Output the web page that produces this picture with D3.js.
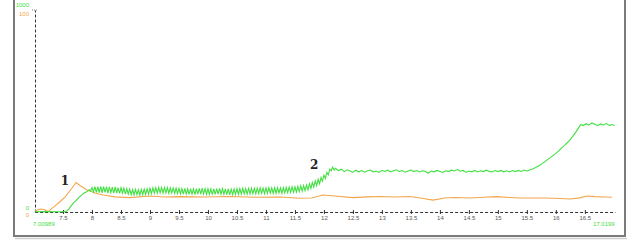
<!DOCTYPE html>
<html><head><meta charset="utf-8">
<script src="https://cdn.jsdelivr.net/npm/d3@7"></script>
<style>body{margin:0;background:#fff}svg{display:block}</style>
</head><body><svg id="c" width="640" height="245"></svg>
<script>
const xStart = 7.00989, xEnd = 17.02;
const xTickValues = [7.5,8,8.5,9,9.5,10,10.5,11,11.5,12,12.5,13,13.5,14,14.5,15,15.5,16,16.5];
const greenMax = 1000, orangeMax = 100;
const startLabel = "7.00989", endLabel = "17.0199";
const peakLabels = [{t:7.46, v:13.3, text:"1"}, {t:11.76, v:21.5, text:"2"}]; // orange-scale position

const orangeSeries = [
 [7.017,0.5],[7.103,1.5],[7.172,1.2],[7.241,0.2],[7.362,3],[7.45,5.2],[7.534,7.4],[7.655,11.9],[7.724,14.6],
 [7.793,13.1],[7.913,10.9],[8.051,9.4],[8.189,8.4],[8.396,7.5],[8.655,7.1],[9.0,7.9],[9.258,7.4],[9.517,7.6],
 [9.948,7.4],[10.379,7.7],[10.81,7.3],[11.241,7.4],[11.586,6.8],[11.793,6.9],[11.982,8.4],[12.189,7.9],
 [12.5,7.1],[12.76,7.5],[12.965,7.7],[13.224,7.4],[13.483,7.7],[13.69,6.8],[13.879,5.9],[14.086,6.9],
 [14.259,7.2],[14.518,6.9],[14.759,7.3],[14.983,7.6],[15.207,7.2],[15.38,6.9],[15.811,6.9],[16.07,6.7],
 [16.242,6.4],[16.414,7.0],[16.535,7.9],[16.673,7.6],[16.845,7.4],[16.966,7.3]
];

const greenSeries = [
 [7.01,1],[7.2,2],[7.4,1],[7.52,2],[7.56,4],[7.6,14],[7.64,30],[7.68,45],[7.72,55],[7.76,68],[7.79,76],[7.83,86],[7.87,95],[7.91,100],[7.95,110],[7.975,104],
 [8.000,121],[8.025,99],[8.050,126],[8.075,97],[8.100,125],[8.125,96],[8.150,127],[8.175,95],[8.200,125],[8.225,97],[8.250,126],[8.275,94],[8.300,124],[8.325,96],[8.350,123],[8.375,93],[8.400,124],[8.425,94],[8.450,121],[8.475,92],[8.500,120],[8.525,93],[8.550,118],[8.575,89],[8.600,116],[8.625,88],[8.650,113],[8.675,86],[8.700,111],[8.725,85],[8.750,112],[8.775,86],[8.800,110],[8.825,84],[8.850,112],[8.875,86],[8.900,113],[8.925,87],[8.950,115],[8.975,89],[9.000,117],[9.025,91],[9.050,119],[9.075,93],[9.100,121],[9.125,94],[9.150,122],[9.175,95],[9.200,121],[9.225,94],[9.250,122],[9.275,95],[9.300,121],[9.325,93],[9.350,120],[9.375,94],[9.400,119],[9.425,92],[9.450,118],[9.475,91],[9.500,117],
 [9.525,90],[9.550,116],[9.575,88],[9.600,117],[9.625,89],[9.650,115],[9.675,87],[9.700,116],[9.725,88],[9.750,114],[9.775,86],[9.800,116],[9.825,88],[9.850,117],[9.875,89],[9.900,118],[9.925,90],[9.950,116],[9.975,88],[10.000,115],[10.025,87],[10.050,114],[10.075,86],[10.100,115],[10.125,87],[10.150,116],[10.175,88],[10.200,117],[10.225,89],[10.250,116],[10.275,88],[10.300,115],[10.325,86],[10.350,114],[10.375,85],[10.400,113],[10.425,86],[10.450,114],[10.475,87],[10.500,115],[10.525,88],[10.550,116],[10.575,89],[10.600,117],[10.625,90],[10.650,116],[10.675,89],[10.700,117],[10.725,90],[10.750,118],[10.775,91],[10.800,117],[10.825,90],[10.850,118],[10.875,91],[10.900,119],[10.925,92],[10.950,118],[10.975,91],[11.000,119],[11.025,92],[11.050,120],[11.075,93],[11.100,119],[11.125,92],[11.150,120],[11.175,93],[11.200,121],[11.225,94],[11.250,120],[11.275,93],[11.300,121],
 [11.325,95],[11.350,122],[11.375,96],[11.400,123],[11.425,97],[11.450,124],[11.475,98],[11.500,125],[11.525,99],[11.550,127],[11.575,101],[11.600,129],[11.625,103],[11.650,131],[11.675,106],[11.700,134],[11.725,110],[11.750,140],[11.775,117],[11.800,146],[11.825,124],[11.850,154],[11.875,131],[11.900,162],[11.925,140],[11.950,170],[11.975,152],[12.000,182],[12.025,166],[12.050,196],[12.075,184],[12.100,212],[12.125,204],[12.150,222],[12.175,208],
 [12.20,216],[12.25,205],[12.30,212],[12.35,200],[12.40,209],[12.45,203],[12.50,196],[12.55,207],[12.60,199],[12.65,205],[12.70,197],[12.75,204],[12.80,208],[12.85,199],[12.90,203],[12.95,196],[13.00,205],[13.05,201],[13.10,207],[13.15,198],[13.20,204],[13.25,209],[13.30,200],[13.35,205],[13.40,197],[13.45,203],[13.50,208],[13.55,200],[13.60,205],[13.65,198],[13.70,204],[13.75,201],[13.80,193],[13.85,203],[13.90,199],[13.95,206],[14.00,201],[14.05,196],[14.10,204],[14.15,200],[14.20,207],[14.25,203],[14.30,210],[14.35,202],[14.40,206],[14.45,196],[14.50,203],[14.55,199],[14.60,206],[14.65,198],[14.70,204],[14.75,200],[14.80,207],[14.85,201],[14.90,198],[14.95,205],[15.00,200],[15.05,206],[15.10,199],[15.15,204],[15.20,198],[15.25,205],[15.30,200],[15.35,206],[15.40,201],[15.45,208],[15.50,203],
 [15.55,208],[15.60,213],[15.65,220],[15.70,228],[15.75,237],[15.80,247],[15.85,258],[15.90,268],[15.95,279],[16.00,290],[16.05,303],[16.10,317],[16.15,330],[16.20,344],[16.25,359],[16.30,378],[16.35,398],[16.40,420],[16.43,433],
 [16.47,428],[16.52,437],[16.57,430],[16.62,441],[16.67,434],[16.72,427],[16.77,436],[16.82,431],[16.87,438],[16.92,429],[16.97,433],[17.01,428]
];

const GREEN = "#3fe03f", ORANGE = "#f2a64c", TEXT = "#555";
const FONT = "Arial, 'Liberation Sans', sans-serif";
const svg = d3.select("#c");
const x = d3.scaleLinear().domain([xStart, xEnd]).range([34.6, 615]);
const yG = d3.scaleLinear().domain([0, greenMax]).range([212, 10]);
const yO = d3.scaleLinear().domain([0, orangeMax]).range([212, 10]);

// frame
const frame = svg.append("g").attr("stroke", "#7a7a7a").attr("stroke-width", 2);
frame.append("line").attr("x1",14).attr("x2",14).attr("y1",0).attr("y2",237);
frame.append("line").attr("x1",625).attr("x2",625).attr("y1",0).attr("y2",237);
frame.append("line").attr("x1",13).attr("x2",626).attr("y1",236).attr("y2",236);
svg.append("line").attr("x1",15).attr("x2",627).attr("y1",238.5).attr("y2",238.5).attr("stroke","#cfcfcf").attr("stroke-width",1.5);

// x axis
const xAxis = d3.axisBottom(x).tickValues(xTickValues).tickSize(4).tickSizeOuter(0).tickFormat(d => String(d));
const gx = svg.append("g").attr("transform","translate(0,212)").call(xAxis);
gx.select(".domain").attr("stroke","#333").attr("stroke-dasharray","3,2").attr("stroke-width",1);
gx.selectAll(".tick line").attr("y1",-2).attr("y2",2).attr("stroke","#333");
gx.selectAll(".tick text").attr("y",4).attr("fill",TEXT).attr("font-size","6px").attr("font-family",FONT);

// y axis
const yAxis = d3.axisLeft(yG).tickValues([]).tickSizeOuter(0);
const gy = svg.append("g").attr("transform","translate(35,0)").call(yAxis);
gy.select(".domain").attr("stroke","#333").attr("stroke-dasharray","3,2").attr("stroke-width",1);
svg.append("line").attr("x1",32).attr("x2",38).attr("y1",yG(greenMax)).attr("y2",yG(greenMax)).attr("stroke","#888").attr("stroke-dasharray","1,1");

// axis end labels
const lab = svg.append("g").attr("font-family",FONT).attr("font-size","6px");
lab.append("text").attr("x",29).attr("y",yG(greenMax)-3).attr("text-anchor","end").attr("fill",GREEN).text(String(greenMax));
lab.append("text").attr("x",29).attr("y",yO(orangeMax)+5.5).attr("text-anchor","end").attr("fill",ORANGE).text(String(orangeMax));
lab.append("text").attr("x",29).attr("y",yG(0)-2.5).attr("text-anchor","end").attr("fill",GREEN).text("0");
lab.append("text").attr("x",29).attr("y",yO(0)+4.5).attr("text-anchor","end").attr("fill",ORANGE).text("0");
lab.append("text").attr("x",x(xStart)-1.5).attr("y",225.5).attr("fill",GREEN).text(startLabel);
lab.append("text").attr("x",593).attr("y",225.5).attr("fill",GREEN).text(endLabel);

// lines
const lineO = d3.line().x(d => x(d[0])).y(d => yO(d[1]));
const lineG = d3.line().x(d => x(d[0])).y(d => yG(d[1]));
svg.append("path").datum(orangeSeries).attr("d",lineO).attr("fill","none").attr("stroke",ORANGE).attr("stroke-width",1.1);
svg.append("path").datum(greenSeries).attr("d",lineG).attr("fill","none").attr("stroke",GREEN).attr("stroke-width",1.1);

// annotations
svg.append("g").selectAll("text").data(peakLabels).join("text")
  .attr("x", d => x(d.t)).attr("y", d => yO(d.v))
  .attr("font-family","'DejaVu Serif', 'Liberation Serif', serif").attr("font-weight","bold").attr("font-size","12px")
  .attr("fill","#222").text(d => d.text);
</script></body></html>
